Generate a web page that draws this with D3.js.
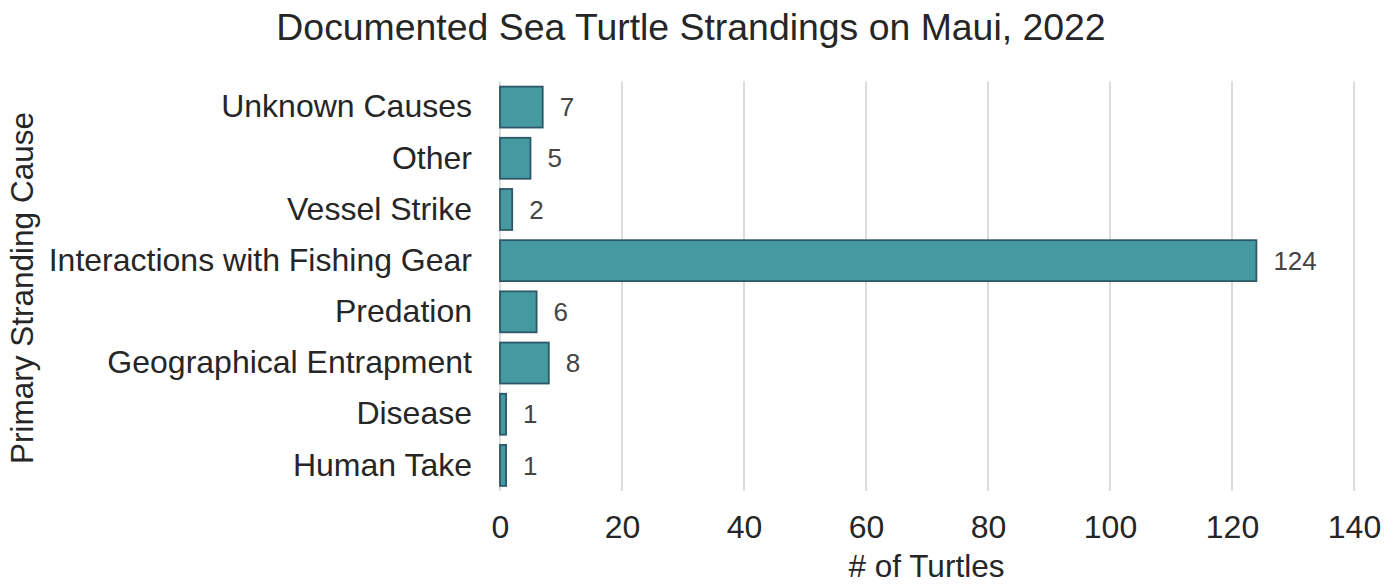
<!DOCTYPE html>
<html>
<head>
<meta charset="utf-8">
<script src="https://cdn.jsdelivr.net/npm/d3@7"></script>
<style>
  body { margin: 0; background: #fff; }
  text { font-family: "Liberation Sans", Arial, sans-serif; }
</style>
</head>
<body>
<script>
const width = 1396
const height = 584
const margin = ({top: 81.5, right: 42, bottom: 93, left: 500})

const causes = ["Unknown Causes", "Other ", "Vessel Strike", "Interactions with Fishing Gear",
                "Predation", "Geographical Entrapment", "Disease", "Human Take"]
const counts = [7, 5, 2, 124, 6, 8, 1, 1]
const xTicks = [0, 20, 40, 60, 80, 100, 120, 140]

const data = causes.map((c, i) => ({cause: c, n: counts[i]}))

const svg = d3.select("body").append("svg").attr("width", width).attr("height", height)

let x = d3.scaleLinear()
    .domain([0, 140])
    .range([margin.left, width - margin.right])

let y = d3.scaleBand()
    .domain(causes)
    .range([margin.top, height - margin.bottom])
    .paddingInner(0.2)
    .paddingOuter(0.1)

// grid lines
svg.append("g")
    .selectAll("line")
    .data(xTicks)
    .join("line")
      .attr("x1", d => x(d)).attr("x2", d => x(d))
      .attr("y1", margin.top).attr("y2", height - margin.bottom)
      .attr("stroke", "#dcdcdc")
      .attr("stroke-width", 2)

// bars
svg.append("g")
    .selectAll("rect")
    .data(data)
    .join("rect")
      .attr("x", x(0))
      .attr("y", d => y(d.cause))
      .attr("width", d => x(d.n) - x(0))
      .attr("height", y.bandwidth())
      .attr("fill", "#4599a0")
      .attr("stroke", "#2c5868")
      .attr("stroke-width", 1.8)

// value labels
svg.append("g")
    .selectAll("text")
    .data(data)
    .join("text")
      .attr("x", d => x(d.n) + 17)
      .attr("y", d => y(d.cause) + y.bandwidth() / 2)
      .attr("dy", "0.35em")
      .attr("font-size", 26)
      .attr("fill", "#444")
      .text(d => d.n)

// x axis
let xAxis = g => g
    .attr("transform", `translate(0,${height - margin.bottom})`)
    .call(d3.axisBottom(x).tickValues(xTicks).tickSize(0).tickPadding(24))
    .call(g => g.select(".domain").remove())
    .call(g => g.selectAll("text")
        .attr("font-size", 32)
        .attr("fill", "#262626"))

// y axis
let yAxis = g => g
    .attr("transform", `translate(${margin.left},0)`)
    .call(d3.axisLeft(y).tickSize(0).tickPadding(28))
    .call(g => g.select(".domain").remove())
    .call(g => g.selectAll("text")
        .attr("font-size", 32)
        .attr("fill", "#262626"))

svg.append("g").call(xAxis)
svg.append("g").call(yAxis)

// title and axis labels
svg.append("text")
    .attr("x", 691)
    .attr("y", 40)
    .attr("text-anchor", "middle")
    .attr("font-size", 37.4)
    .attr("fill", "#262626")
    .text("Documented Sea Turtle Strandings on Maui, 2022")

svg.append("text")
    .attr("x", 926.5)
    .attr("y", 577)
    .attr("text-anchor", "middle")
    .attr("font-size", 31.5)
    .attr("fill", "#262626")
    .text("# of Turtles")

svg.append("text")
    .attr("transform", `translate(33,288) rotate(-90)`)
    .attr("text-anchor", "middle")
    .attr("font-size", 31.5)
    .attr("fill", "#262626")
    .text("Primary Stranding Cause")
</script>
</body>
</html>
